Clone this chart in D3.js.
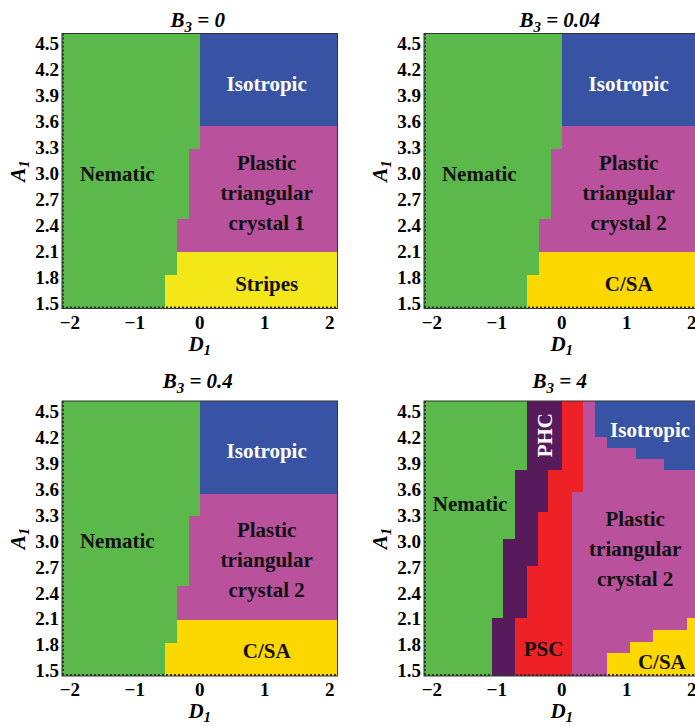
<!DOCTYPE html>
<html>
<head>
<meta charset="utf-8">
<script src="https://cdn.jsdelivr.net/npm/d3@7"></script>
<style>
  body { margin: 0; background: #fff; }
  text { font-family: "Liberation Serif", "Times New Roman", serif; font-weight: bold; }
</style>
</head>
<body>
<div id="chart"></div>
<script>
const W = 695, H = 726;

// axis ranges and ticks
const dRange = [-2.12, 2.12];
const aRange = [1.44, 4.615];
const xTicks = [-2, -1, 0, 1, 2];
const yTicks = [1.5, 1.8, 2.1, 2.4, 2.7, 3.0, 3.3, 3.6, 3.9, 4.2, 4.5];
const b3Values = ["0", "0.04", "0.4", "4"];

const phaseColor = {
  N: "#5bb94b",
  I: "#3953a4",
  PTC: "#b9519d",
  Stripes: "#f3e71a",
  CSA: "#fdd800",
  PHC: "#571a5a",
  PSC: "#ed2126"
};

// staircase boundaries: [A1 where the step starts, D1 of the boundary]
// B3 = 0, 0.04, 0.4
const nematicEdge = [[1.44, -0.535], [1.824, -0.35], [2.479, -0.166], [3.287, 0]];
const isoBottom = 3.545;
const lowTop = 2.09;

// B3 = 4
const nematicEdge4 = [[1.44, -1.074], [2.106, -0.90], [3.018, -0.72], [3.818, -0.54]];
const phcEdge4 = [[1.44, -0.72], [2.106, -0.54], [2.71, -0.37], [3.333, -0.21], [3.818, 0]];
const pscEdge4 = [[1.44, 0.162], [3.56, 0.33]];
const isoEdge4 = [[3.818, 1.57], [3.942, 1.14], [4.069, 0.70], [4.203, 0.51]];
const csaEdge4 = [[1.44, 0.69], [1.70, 1.05], [1.836, 1.41], [1.97, 1.92]];
const csaTop4 = 2.106;

function simpleRegions(low) {
  return [
    {phase: "N", a: aRange, left: dRange[0], right: nematicEdge},
    {phase: "PTC", a: [lowTop, isoBottom], left: nematicEdge, right: dRange[1]},
    {phase: "I", a: [isoBottom, aRange[1]], left: 0, right: dRange[1]},
    {phase: low, a: [aRange[0], lowTop], left: nematicEdge, right: dRange[1]}
  ];
}

const regionsB4 = [
  {phase: "N", a: aRange, left: dRange[0], right: nematicEdge4},
  {phase: "PHC", a: aRange, left: nematicEdge4, right: phcEdge4},
  {phase: "PSC", a: aRange, left: phcEdge4, right: pscEdge4},
  {phase: "PTC", a: aRange, left: pscEdge4, right: dRange[1]},
  {phase: "I", a: [3.818, aRange[1]], left: isoEdge4, right: dRange[1]},
  {phase: "CSA", a: [aRange[0], csaTop4], left: csaEdge4, right: dRange[1]}
];

function simpleLabels(ptcName, lowName) {
  return [
    {lines: ["Nematic"], d: -1.27, a: 3.0, color: "#111"},
    {lines: ["Isotropic"], d: 1.03, a: 4.04, color: "#fff"},
    {lines: ["Plastic", "triangular", ptcName], d: 1.03, a: 2.78, color: "#111"},
    {lines: [lowName], d: 1.03, a: 1.73, color: "#111"}
  ];
}

const labelsB4 = [
  {lines: ["Nematic"], d: -1.41, a: 3.43, color: "#111"},
  {lines: ["PHC"], d: -0.26, a: 4.22, color: "#fff", rotate: true},
  {lines: ["PSC"], d: -0.28, a: 1.75, color: "#111"},
  {lines: ["Isotropic"], d: 1.36, a: 4.28, color: "#fff"},
  {lines: ["Plastic", "triangular", "crystal 2"], d: 1.13, a: 2.91, color: "#111"},
  {lines: ["C/SA"], d: 1.54, a: 1.6, color: "#111"}
];

const panels = [
  {b3: b3Values[0], left: 62, top: 33.5, titleY: 26.5, dLabelY: 42, regions: simpleRegions("Stripes"), labels: simpleLabels("crystal 1", "Stripes")},
  {b3: b3Values[1], left: 424, top: 33.5, titleY: 26.5, dLabelY: 42, regions: simpleRegions("CSA"), labels: simpleLabels("crystal 2", "C/SA")},
  {b3: b3Values[2], left: 62, top: 401, titleY: 388, dLabelY: 42, regions: simpleRegions("CSA"), labels: simpleLabels("crystal 2", "C/SA")},
  {b3: b3Values[3], left: 424, top: 401, titleY: 388, dLabelY: 42, regions: regionsB4, labels: labelsB4}
];

const pw = 275.5, ph = 275;
const x = d3.scaleLinear().domain(dRange).range([0, pw]);
const y = d3.scaleLinear().domain(aRange).range([ph, 0]);

function stepAt(s, a) {
  if (typeof s === "number") return s;
  let v = s[0][1];
  for (const [a0, d] of s) if (a >= a0) v = d;
  return v;
}

function regionPoints(r) {
  const [lo, hi] = r.a;
  const cuts = [lo, hi];
  [r.left, r.right].forEach(s => {
    if (Array.isArray(s)) s.forEach(([a0]) => { if (a0 > lo && a0 < hi) cuts.push(a0); });
  });
  cuts.sort((p, q) => p - q);
  const bands = d3.pairs(cuts);
  const pts = [];
  bands.forEach(([a0, a1]) => { const d = stepAt(r.right, (a0 + a1) / 2); pts.push([d, a0], [d, a1]); });
  bands.slice().reverse().forEach(([a0, a1]) => { const d = stepAt(r.left, (a0 + a1) / 2); pts.push([d, a1], [d, a0]); });
  return pts;
}

const line = d3.line().x(p => x(p[0])).y(p => y(p[1]));

const svg = d3.select("#chart").append("svg")
  .attr("width", W).attr("height", H);

panels.forEach(p => {
  const g = svg.append("g").attr("transform", `translate(${p.left},${p.top})`);

  g.selectAll("path.region")
    .data(p.regions)
    .join("path")
    .attr("class", "region")
    .attr("d", r => line(regionPoints(r)) + "Z")
    .attr("fill", r => phaseColor[r.phase])
    .attr("shape-rendering", "crispEdges");

  // frame + dotted minor ticks on left/bottom
  g.append("rect").attr("width", pw).attr("height", ph)
    .attr("fill", "none").attr("stroke", "#333").attr("stroke-width", 1);
  g.append("line").attr("x1", 1).attr("x2", 1).attr("y1", 0).attr("y2", ph)
    .attr("stroke", "#333").attr("stroke-width", 2).attr("stroke-dasharray", "2,2");
  g.append("line").attr("x1", 0).attr("x2", pw).attr("y1", ph - 1).attr("y2", ph - 1)
    .attr("stroke", "#333").attr("stroke-width", 2).attr("stroke-dasharray", "2,2");

  // tick labels
  g.selectAll("text.ytick").data(yTicks).join("text")
    .attr("class", "ytick")
    .attr("x", -3).attr("y", d => y(d)).attr("dy", "0.35em")
    .attr("text-anchor", "end").attr("font-size", 19)
    .text(d3.format(".1f"));
  g.selectAll("text.xtick").data(xTicks).join("text")
    .attr("class", "xtick")
    .attr("x", d => x(d)).attr("y", ph + 20)
    .attr("text-anchor", "middle").attr("font-size", 19)
    .text(d => d3.format("d")(d));

  // axis titles
  const xl = g.append("text").attr("x", pw / 2).attr("y", ph + p.dLabelY)
    .attr("text-anchor", "middle").attr("font-size", 21).attr("font-style", "italic");
  xl.append("tspan").text("D");
  xl.append("tspan").attr("font-size", 15).attr("dy", 4).text("1");

  const yl = g.append("text").attr("transform", `translate(-37,${ph / 2}) rotate(-90)`)
    .attr("text-anchor", "middle").attr("font-size", 21).attr("font-style", "italic");
  yl.append("tspan").text("A");
  yl.append("tspan").attr("font-size", 15).attr("dy", 4).text("1");

  // panel title
  const t = svg.append("text").attr("x", p.left + pw / 2 - 2).attr("y", p.titleY)
    .attr("text-anchor", "middle").attr("font-size", 21).attr("font-style", "italic");
  t.append("tspan").text("B");
  t.append("tspan").attr("font-size", 15).attr("dy", 5).text("3");
  t.append("tspan").attr("dy", -5).text(" = " + p.b3);

  // phase labels
  p.labels.forEach(l => {
    const lh = 30;
    const tx = g.append("text")
      .attr("text-anchor", "middle").attr("font-size", 21)
      .attr("fill", l.color);
    if (l.rotate) {
      tx.attr("transform", `translate(${x(l.d)},${y(l.a)}) rotate(-90)`)
        .attr("dy", "0.35em").text(l.lines[0]);
    } else {
      const y0 = y(l.a) - (l.lines.length - 1) * lh / 2;
      l.lines.forEach((s, i) => {
        tx.append("tspan").attr("x", x(l.d)).attr("y", y0 + i * lh)
          .attr("dy", "0.35em").text(s);
      });
    }
  });
});
</script>
</body>
</html>
